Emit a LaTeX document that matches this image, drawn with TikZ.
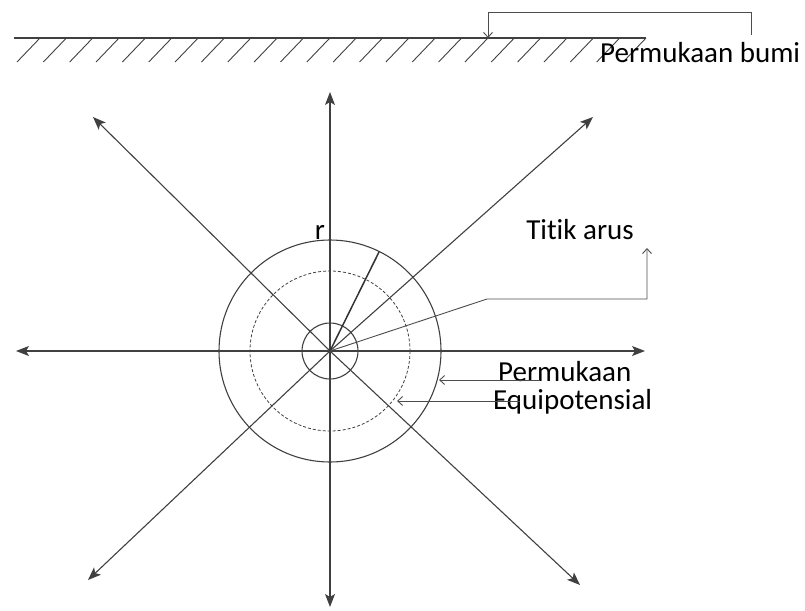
\documentclass[tikz,border=0pt]{standalone}
\usepackage{fontspec}
\setmainfont{Carlito}[Ligatures={NoCommon}]
\usetikzlibrary{arrows.meta}
\tikzset{
  ln/.style={draw=black!75, line width=1.1pt},
  radial/.style={ln, -{Stealth[length=13pt,width=10pt,inset=3pt]}},
  lead/.style={draw=black!70, line width=0.9pt, -{Straight Barb[length=5pt,width=9pt]}},
  lbl/.style={font=\fontsize{29}{28}\selectfont, inner sep=0pt, text=black},
}
\begin{document}
\begin{tikzpicture}[x=1pt,y=-1pt]
\useasboundingbox (0,0) rectangle (805,610);
% center
\coordinate (O) at (330,351);
% ground
\coordinate (g1) at (14,38);
\coordinate (g2) at (646,38);
\draw[ln] (g1) -- (g2);
\foreach \k in {0,...,23}{
  \draw[draw=black!75, line width=0.9pt] ({40+\k*26.35},38) -- ({17+\k*26.35},62);
}
% ground label
\node[lbl, anchor=base west] (pb) at (600,63) {Permukaan bumi};
\coordinate (gb1) at (751,35);
\coordinate (gb2) at (751,12);
\coordinate (gb3) at (488,12);
\coordinate (gbt) at (488,38);
\draw[lead] (gb1) -- (gb2) -- (gb3) -- (gbt);
% radial arrows
\coordinate (tL) at (16,351);
\coordinate (tR) at (645,351);
\coordinate (tT) at (330,92);
\coordinate (tB) at (330,607);
\coordinate (tUL) at (93,117);
\coordinate (tUR) at (593,117);
\coordinate (tLL) at (88,580);
\coordinate (tLR) at (580,585);
\foreach \t in {tL,tR,tT,tB,tUL,tUR,tLL,tLR}{
  \draw[radial] (O) -- (\t);
}
% circles
\draw[ln] (O) circle[radius=28];
\draw[draw=black!75, line width=0.8pt, dash pattern=on 3pt off 2pt] (O) circle[radius=80];
\draw[ln] (O) circle[radius=111];
% radius line
\coordinate (rE) at (379,252);
\draw[draw=black!80, line width=1.5pt] (O) -- (rE);
\node[lbl] (r) at (320,232) {r};
% titik arus
\node[lbl] (ta) at (580,230) {Titik arus};
\coordinate (ta1) at (487,299);
\coordinate (ta2) at (647,299);
\coordinate (ta3) at (647,248);
\draw[lead] (O) -- (ta1) -- (ta2) -- (ta3);
% equipotential
\node[lbl, anchor=base west] (pe1) at (498,381) {Permukaan};
\node[lbl, anchor=base west] (pe2) at (493,409) {Equipotensial};
\coordinate (e1s) at (540,380);
\coordinate (e1t) at (439,380);
\coordinate (e2s) at (520,401);
\coordinate (e2t) at (397,401);
\draw[lead] (e1s) -- (e1t);
\draw[lead] (e2s) -- (e2t);
\end{tikzpicture}
\end{document}
